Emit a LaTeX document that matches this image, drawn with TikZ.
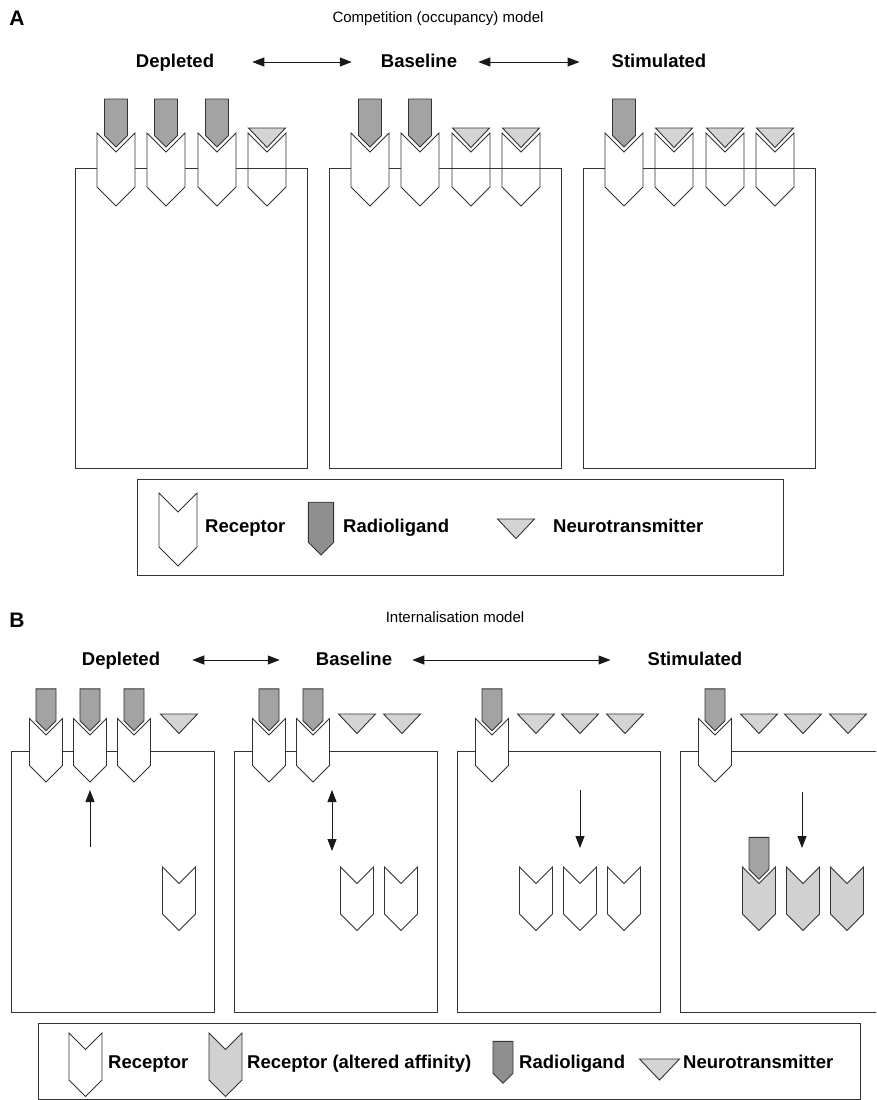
\documentclass[tikz,border=0pt]{standalone}
\usepackage{fontspec}
\setmainfont{Liberation Sans}
\usepackage{xcolor}
\usepackage{tikz}
\usetikzlibrary{arrows.meta, positioning, calc}

\definecolor{contorno}{gray}{0.2}
\definecolor{cinzaLig}{gray}{0.64}
\definecolor{cinzaLigLeg}{gray}{0.56}
\definecolor{cinzaNT}{gray}{0.83}
\definecolor{cinzaRec}{gray}{0.82}

\begin{document}
\begin{tikzpicture}[x=1pt, y=-1pt,
        % 1. DEFINIÇÃO DOS ESTILOS VISUAIS
        rotulo/.style={font=\bfseries\fontsize{18.5}{22}\selectfont, inner sep=0pt,
            text height=14pt, text depth=3pt},
        titulo/.style={font=\fontsize{15}{18}\selectfont, inner sep=0pt,
            text height=11pt, text depth=3pt},
        letra/.style={font=\bfseries\fontsize{21}{25}\selectfont, inner sep=0pt},
        % Células (caixas brancas com borda escura)
        celula/.style={draw=contorno, fill=white, line width=1pt},
        legenda/.style={draw=contorno, line width=1pt},
        forma/.style={draw=contorno, line width=0.9pt, line join=miter},
        % Estilo das setas
        seta/.style={line width=1pt, draw=black!90,
            {Triangle[length=12pt,width=9pt]}-{Triangle[length=12pt,width=9pt]}},
        setaum/.style={line width=1pt, draw=black!90, -{Triangle[length=12pt,width=9pt]}},
        % Receptor, radioligante e neurotransmissor
        pics/receptor/.style={code={
            \draw[forma, #1] (-19,-19) -- (0,0) -- (19,-19) -- (19,35) -- (0,54) -- (-19,35) -- cycle;}},
        pics/receptor/.default={fill=white},
        pics/ligante/.style={code={
            \draw[white, line width=3pt] (-11.5,-53) -- (11.5,-53) -- (11.5,-16.5) -- (0,-5) -- (-11.5,-16.5) -- cycle;
            \draw[forma, fill=#1] (-11.5,-53) -- (11.5,-53) -- (11.5,-16.5) -- (0,-5) -- (-11.5,-16.5) -- cycle;}},
        pics/ligante/.default=cinzaLig,
        pics/neuro/.style={code={
            \draw[white, line width=3pt] (-18.5,0) -- (18.5,0) -- (0,19.5) -- cycle;
            \draw[forma, fill=cinzaNT] (-18.5,0) -- (18.5,0) -- (0,19.5) -- cycle;}}
    ]
        \useasboundingbox (0,0) rectangle (876,1100);
        \clip (0,0) rectangle (876,1100);

        % 2. PAINEL A: MODELO DE COMPETIÇÃO
        \node[letra] (letraA) at (17,18) {A};
        \node[titulo] (tituloA) at (438,18) {Competition (occupancy) model};

        \node[rotulo] (depA) at (175,62) {Depleted};
        \node[rotulo] (basA) at (419,62) {Baseline};
        \node[rotulo] (estA) at (659,62) {Stimulated};

        \draw[seta, shorten <=38pt, shorten >=29pt] (depA) -- (basA);
        \draw[seta, shorten <=21pt, shorten >=32pt] (basA) -- (estA);

        % Célula depletada
        \draw[celula] (75,168) rectangle (307,468);
        \pic at (116,152) {receptor};
        \pic at (166,152) {receptor};
        \pic at (217,152) {receptor};
        \pic at (267,152) {receptor={fill=none}};
        \pic at (116,152) {ligante};
        \pic at (166,152) {ligante};
        \pic at (217,152) {ligante};
        \pic at (267,128) {neuro};

        % Célula basal
        \draw[celula] (329,168) rectangle (561,468);
        \pic at (370,152) {receptor};
        \pic at (420,152) {receptor};
        \pic at (471,152) {receptor={fill=none}};
        \pic at (521,152) {receptor={fill=none}};
        \pic at (370,152) {ligante};
        \pic at (420,152) {ligante};
        \pic at (471,128) {neuro};
        \pic at (521,128) {neuro};

        % Célula estimulada
        \draw[celula] (583,168) rectangle (815,468);
        \pic at (624,152) {receptor};
        \pic at (674,152) {receptor={fill=none}};
        \pic at (725,152) {receptor={fill=none}};
        \pic at (775,152) {receptor={fill=none}};
        \pic at (624,152) {ligante};
        \pic at (674,128) {neuro};
        \pic at (725,128) {neuro};
        \pic at (775,128) {neuro};

        % Legenda A
        \draw[legenda] (137,479) rectangle (783,575);
        \pic at (178,512) {receptor};
        \node[rotulo, anchor=west] (legRecA) at (205,527) {Receptor};
        \pic[scale=1.1] at (321,560.5) {ligante=cinzaLigLeg};
        \node[rotulo, anchor=west] (legLigA) at (343,527) {Radioligand};
        \pic at (516,519) {neuro};
        \node[rotulo, anchor=west] (legNtA) at (553,527) {Neurotransmitter};

        % 3. PAINEL B: MODELO DE INTERNALIZAÇÃO
        \node[letra] (letraB) at (17,620) {B};
        \node[titulo] (tituloB) at (455,618) {Internalisation model};

        \node[rotulo] (depB) at (121,660) {Depleted};
        \node[rotulo] (basB) at (354,660) {Baseline};
        \node[rotulo] (estB) at (695,660) {Stimulated};

        \draw[seta, shorten <=32pt, shorten >=36pt] (depB) -- (basB);
        \draw[seta, shorten <=20pt, shorten >=37pt] (basB) -- (estB);

        % Célula depletada
        \draw[celula] (11,751) rectangle (214,1012);
        \pic[scale=0.87] at (46,735) {receptor};
        \pic[scale=0.87] at (90,735) {receptor};
        \pic[scale=0.87] at (134,735) {receptor};
        \pic[scale=0.87] at (46,735) {ligante};
        \pic[scale=0.87] at (90,735) {ligante};
        \pic[scale=0.87] at (134,735) {ligante};
        \pic at (179,714) {neuro};
        \pic[scale=0.87] at (179,883.5) {receptor};
        \coordinate (dep0) at (90,847);
        \coordinate (dep1) at (90,790);
        \draw[setaum] (dep0) -- (dep1);

        % Célula basal
        \draw[celula] (234,751) rectangle (437,1012);
        \pic[scale=0.87] at (269,735) {receptor};
        \pic[scale=0.87] at (313,735) {receptor};
        \pic[scale=0.87] at (269,735) {ligante};
        \pic[scale=0.87] at (313,735) {ligante};
        \pic at (357,714) {neuro};
        \pic at (402,714) {neuro};
        \pic[scale=0.87] at (357,883.5) {receptor};
        \pic[scale=0.87] at (401,883.5) {receptor};
        \coordinate (bas0) at (332,790);
        \coordinate (bas1) at (332,851);
        \draw[seta] (bas0) -- (bas1);

        % Célula estimulada
        \draw[celula] (457,751) rectangle (660,1012);
        \pic[scale=0.87] at (492,735) {receptor};
        \pic[scale=0.87] at (492,735) {ligante};
        \pic at (536,714) {neuro};
        \pic at (580,714) {neuro};
        \pic at (625,714) {neuro};
        \pic[scale=0.87] at (536,883.5) {receptor};
        \pic[scale=0.87] at (580,883.5) {receptor};
        \pic[scale=0.87] at (624,883.5) {receptor};
        \coordinate (est0) at (580,790);
        \coordinate (est1) at (580,848);
        \draw[setaum] (est0) -- (est1);

        % Célula estimulada (afinidade alterada)
        \draw[celula] (680,751) rectangle (883,1012);
        \pic[scale=0.87] at (715,735) {receptor};
        \pic[scale=0.87] at (715,735) {ligante};
        \pic at (759,714) {neuro};
        \pic at (803,714) {neuro};
        \pic at (848,714) {neuro};
        \pic[scale=0.87] at (759,883.5) {receptor={fill=cinzaRec}};
        \pic[scale=0.87] at (803,883.5) {receptor={fill=cinzaRec}};
        \pic[scale=0.87] at (847,883.5) {receptor={fill=cinzaRec}};
        \pic[scale=0.87] at (759,883.5) {ligante};
        \coordinate (alt0) at (802,792);
        \coordinate (alt1) at (802,848);
        \draw[setaum] (alt0) -- (alt1);

        % Legenda B
        \draw[legenda] (38,1023) rectangle (860,1099);
        \pic[scale=0.87] at (85.5,1049.5) {receptor};
        \node[rotulo, anchor=west] (legRecB) at (108,1063) {Receptor};
        \pic[scale=0.87] at (225.5,1049.5) {receptor={fill=cinzaRec}};
        \node[rotulo, anchor=west] (legAltB) at (247,1063) {Receptor (altered affinity)};
        \pic[scale=0.87] at (503,1087.5) {ligante=cinzaLigLeg};
        \node[rotulo, anchor=west] (legLigB) at (519,1063) {Radioligand};
        \pic[scale=1.08] at (659.5,1059) {neuro};
        \node[rotulo, anchor=west] (legNtB) at (683,1063) {Neurotransmitter};

    \end{tikzpicture}
\end{document}
